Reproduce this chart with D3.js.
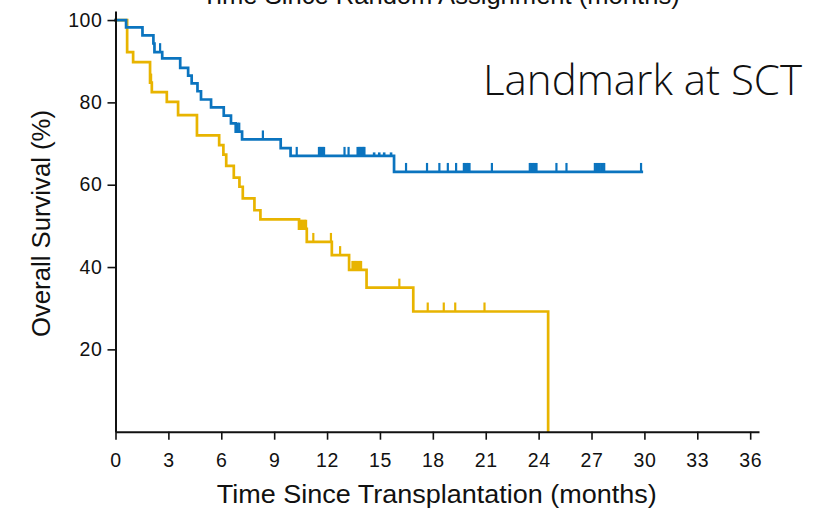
<!DOCTYPE html>
<html>
<head>
<meta charset="utf-8">
<script src="https://cdn.jsdelivr.net/npm/d3@7"></script>
<style>
  html, body { margin: 0; padding: 0; background: #fff; }
  svg { display: block; }
</style>
</head>
<body>
<svg id="chart" width="816" height="512"></svg>
<script>
// Kaplan-Meier overall survival, landmark at transplantation (times in months, survival in %)
const xMajorTicks = [0, 3, 6, 9, 12, 15, 18, 21, 24, 27, 30, 33, 36];
const yMajorTicks = [20, 40, 60, 80, 100];
const yMinorTicks = [10, 30, 50, 70, 90];

// Blue arm: event times and survival after each step
const blueEventTimes = [0.60, 1.53, 2.15, 2.21, 2.65, 3.67, 4.12, 4.32, 4.65, 4.85, 5.42, 6.14, 6.55, 6.82, 7.18, 9.37, 9.93, 15.80];
const blueSurvival   = [98.2, 96.3, 94.3, 92.2, 90.7, 88.4, 86.5, 84.6, 82.7, 80.7, 78.8, 76.8, 74.9, 72.9, 71.0, 68.9, 67.0, 63.1];
const blueLastFollowUp = 29.85;
const blueCensorTimes = [
  2.53, 6.93, 7.02, 8.36, 10.28,
  11.54, 11.61, 11.68, 11.75, 11.83,
  12.99, 13.22,
  13.73, 13.80, 13.87, 13.94, 14.01, 14.07, 14.12,
  16.48, 17.67, 18.37, 18.85, 19.32,
  19.76, 19.84, 19.92, 20.00, 20.08,
  21.35,
  23.50, 23.58, 23.66, 23.74, 23.82, 23.88,
  25.01, 25.58,
  27.19, 27.28, 27.37, 27.46, 27.55, 27.64, 27.72,
  29.81
];
const blueCensorShortTimes = [14.67, 14.96, 15.24, 15.63];

// Yellow arm
const yellowEventTimes = [0.66, 1.00, 1.96, 2.06, 2.91, 3.55, 4.62, 5.88, 6.12, 6.28, 6.71, 7.03, 7.22, 7.88, 8.22, 10.41, 10.85, 12.27, 13.25, 14.24, 16.89, 24.54];
const yellowSurvival   = [92.2, 89.8, 84.8, 82.5, 80.1, 76.9, 72.0, 69.6, 67.3, 64.6, 61.7, 59.5, 56.7, 53.8, 51.6, 49.3, 46.1, 42.9, 39.3, 35.0, 29.2, 0];
const yellowCensorTimes = [
  1.97, 2.02,
  10.47, 10.54, 10.61, 10.68, 10.75, 10.81,
  11.22, 12.22, 12.74,
  13.44, 13.51, 13.58, 13.65, 13.72, 13.79, 13.86, 13.93,
  16.10, 17.71, 18.62, 19.27, 20.93
];

const titleTop = "Time Since Random Assignment (months)";
const xTitle = "Time Since Transplantation (months)";
const yTitle = "Overall Survival (%)";
const panelNote = "Landmark at SCT";

const BLUE = "#0b74bf";
const YELLOW = "#e8b400";
const LABEL_FONT = "'Liberation Sans', Arial, sans-serif";

const svg = d3.select("#chart");

const x = d3.scaleLinear().domain([0, 36.5]).range([115.5, 759]);
const y = d3.scaleLinear().domain([0, 102.2]).range([431.7, 11]);

// Survival level of a step curve at time t
function levelAt(times, surv, t) {
  let s = 100;
  for (let i = 0; i < times.length; i++) {
    if (times[i] <= t) s = surv[i]; else break;
  }
  return s;
}

function curvePoints(times, surv, lastT) {
  const pts = [[0, 100]];
  times.forEach((t, i) => pts.push([t, surv[i]]));
  if (lastT !== undefined && lastT > times[times.length - 1]) pts.push([lastT, surv[surv.length - 1]]);
  return pts;
}

const stepLine = d3.line()
  .x(d => x(d[0]))
  .y(d => y(d[1]))
  .curve(d3.curveStepAfter);

function drawArm(times, surv, lastT, censors, shortCensors, color) {
  const g = svg.append("g");
  g.append("path")
    .datum(curvePoints(times, surv, lastT))
    .attr("d", stepLine)
    .attr("fill", "none")
    .attr("stroke", color)
    .attr("stroke-width", 2.7)
    .attr("stroke-linejoin", "miter")
    .attr("stroke-linecap", "square");
  g.selectAll("line.censor")
    .data(censors)
    .join("line")
    .attr("class", "censor")
    .attr("x1", d => x(d)).attr("x2", d => x(d))
    .attr("y1", d => y(levelAt(times, surv, d)))
    .attr("y2", d => y(levelAt(times, surv, d)) - 9)
    .attr("stroke", color)
    .attr("stroke-width", 2.2);
  g.selectAll("line.censor-short")
    .data(shortCensors)
    .join("line")
    .attr("class", "censor-short")
    .attr("x1", d => x(d)).attr("x2", d => x(d))
    .attr("y1", d => y(levelAt(times, surv, d)))
    .attr("y2", d => y(levelAt(times, surv, d)) - 3.5)
    .attr("stroke", color)
    .attr("stroke-width", 2.6);
}

drawArm(yellowEventTimes, yellowSurvival, undefined, yellowCensorTimes, [], YELLOW);
drawArm(blueEventTimes, blueSurvival, blueLastFollowUp, blueCensorTimes, blueCensorShortTimes, BLUE);

// Axes
const xMinor = d3.range(0, 37, 1).filter(v => v % 3 !== 0);

const xAxisG = svg.append("g").attr("transform", `translate(0,${y(0)})`);
xAxisG.call(d3.axisBottom(x).tickValues(xMinor).tickSize(4).tickFormat("").tickSizeOuter(0));
xAxisG.call(d3.axisBottom(x).tickValues(xMajorTicks).tickSize(8).tickPadding(13).tickSizeOuter(0));

const yAxisG = svg.append("g").attr("transform", `translate(${x(0)},0)`);
yAxisG.call(d3.axisLeft(y).tickValues(yMinorTicks).tickSize(5).tickFormat("").tickSizeOuter(0));
yAxisG.call(d3.axisLeft(y).tickValues(yMajorTicks).tickSize(8).tickPadding(5).tickSizeOuter(0));

svg.selectAll(".domain").attr("stroke", "#111").attr("stroke-width", 2);
svg.selectAll(".tick line").attr("stroke", "#111").attr("stroke-width", 1.6);
svg.selectAll(".tick text")
  .attr("fill", "#111")
  .style("font-family", LABEL_FONT)
  .style("font-size", "19.5px")
  .style("letter-spacing", "0.6px");

// Titles
svg.append("text")
  .attr("x", 201.7).attr("y", 4)
  .attr("textLength", 478).attr("lengthAdjust", "spacingAndGlyphs")
  .style("font-family", LABEL_FONT).style("font-size", "25.5px")
  .attr("fill", "#111")
  .text(titleTop);

svg.append("text")
  .attr("x", 216.7).attr("y", 503)
  .attr("textLength", 440).attr("lengthAdjust", "spacingAndGlyphs")
  .style("font-family", LABEL_FONT).style("font-size", "25.5px")
  .attr("fill", "#111")
  .text(xTitle);

svg.append("text")
  .attr("transform", "translate(49.5,337) rotate(-90)")
  .attr("textLength", 227).attr("lengthAdjust", "spacingAndGlyphs")
  .style("font-family", LABEL_FONT).style("font-size", "26px")
  .attr("fill", "#111")
  .text(yTitle);

svg.append("text")
  .attr("x", 483).attr("y", 95)
  .attr("textLength", 319).attr("lengthAdjust", "spacingAndGlyphs")
  .style("font-family", "'Open Sans', 'Noto Sans', sans-serif")
  .style("font-weight", 300)
  .style("font-size", "43px")
  .attr("fill", "#111")
  .text(panelNote);
</script>
</body>
</html>
